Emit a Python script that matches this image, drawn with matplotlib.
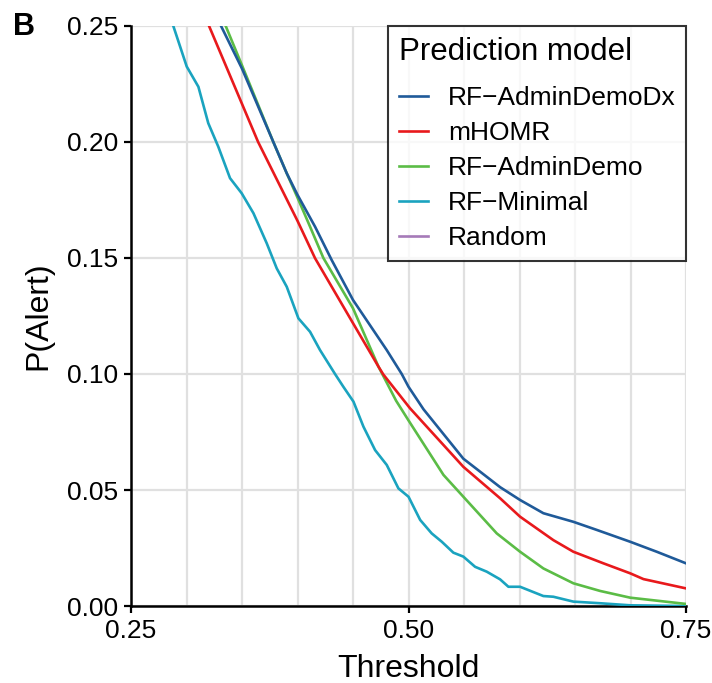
import matplotlib
matplotlib.use("Agg")
import matplotlib.pyplot as plt
import numpy as np

plt.rcParams['font.family'] = ['Liberation Sans', 'DejaVu Sans']

# data (threshold vs P(alert))
dx_x = [0.327, 0.3311, 0.350, 0.3782, 0.3903, 0.400, 0.4158, 0.4308, 0.450, 0.4804, 0.4939,
        0.500, 0.5135, 0.5494, 0.5826, 0.6005, 0.6215, 0.6485, 0.6696, 0.6997, 0.7236, 0.750]
dx_y = [0.254, 0.250, 0.2316, 0.200, 0.1865, 0.1772, 0.1635, 0.1491, 0.1319, 0.1103, 0.100,
        0.0945, 0.0848, 0.0635, 0.0512, 0.0457, 0.0400, 0.0363, 0.0328, 0.0277, 0.0234, 0.0184]

mhomr_x = [0.316, 0.3203, 0.3645, 0.400, 0.4158, 0.450, 0.4729, 0.4773, 0.5014,
           0.5494, 0.5826, 0.6005, 0.6305, 0.6485, 0.6756, 0.6997, 0.7117, 0.750]
mhomr_y = [0.255, 0.250, 0.200, 0.1660, 0.1499, 0.1219, 0.1032, 0.0998, 0.0852,
           0.0600, 0.0464, 0.0385, 0.0284, 0.0234, 0.0184, 0.0141, 0.0116, 0.0076]

demo_x = [0.332, 0.3353, 0.350, 0.3782, 0.3903, 0.400, 0.4113, 0.4233, 0.450, 0.4729, 0.4888,
          0.500, 0.5315, 0.5494, 0.5795, 0.6005, 0.6215, 0.6485, 0.6726, 0.6997, 0.750]
demo_y = [0.254, 0.250, 0.2330, 0.200, 0.1865, 0.1760, 0.1635, 0.150, 0.1283, 0.1032, 0.0885,
          0.0800, 0.0565, 0.0471, 0.0313, 0.0234, 0.0162, 0.0098, 0.0065, 0.0036, 0.0009]

minimal_x = [0.285, 0.2881, 0.3002, 0.3107, 0.3196, 0.3286, 0.3392, 0.3497, 0.3603, 0.3723,
             0.3813, 0.3903, 0.4008, 0.4113, 0.4203, 0.4338, 0.4413, 0.4504, 0.4594, 0.4699,
             0.4804, 0.4909, 0.500, 0.5105, 0.5209, 0.530, 0.5404, 0.5494, 0.560, 0.5705,
             0.5825, 0.590, 0.6005, 0.6215, 0.6305, 0.6485, 0.6726, 0.700, 0.750]
minimal_y = [0.258, 0.250, 0.2325, 0.2238, 0.2081, 0.198, 0.1844, 0.1779, 0.1693, 0.1563,
             0.1455, 0.1376, 0.124, 0.1182, 0.1103, 0.100, 0.0945, 0.0881, 0.0773, 0.0672,
             0.0608, 0.0507, 0.0471, 0.0371, 0.0313, 0.0277, 0.023, 0.0213, 0.0169, 0.0148,
             0.0115, 0.0083, 0.0083, 0.0043, 0.0040, 0.0019, 0.0012, 0.0003, 0.0]

random_x = []
random_y = []

labels = ["RF\u2212AdminDemoDx", "mHOMR", "RF\u2212AdminDemo", "RF\u2212Minimal", "Random"]
colors = ["#1F5A99", "#E8191C", "#5BBC46", "#1AA3BF", "#A57AB8"]

fig = plt.figure(figsize=(7.12, 6.83), dpi=100)
ax = fig.add_axes([0.184, 0.1127, 0.7795, 0.8493])

# grid (ggplot-like, light grey)
for gx in np.arange(0.25, 0.751, 0.05):
    ax.axvline(gx, color="#E0E0E0", lw=1.6, zorder=0)
for gy in np.arange(0.0, 0.251, 0.05):
    ax.axhline(gy, color="#E0E0E0", lw=1.6, zorder=0)

series = [(dx_x, dx_y), (mhomr_x, mhomr_y), (demo_x, demo_y),
          (minimal_x, minimal_y), (random_x, random_y)]
# draw order: minimal, demo, mhomr, dx on top
order = [3, 2, 1, 0, 4]
handles = {}
for i in order:
    xs, ys = series[i]
    ln, = ax.plot(xs, ys, color=colors[i], lw=1.9, label=labels[i], zorder=3)
    handles[i] = ln

ax.set_xlim(0.25, 0.75)
ax.set_ylim(0.0, 0.25)
ax.set_xticks([0.25, 0.50, 0.75])
ax.set_xticklabels(["0.25", "0.50", "0.75"])
ax.set_yticks([0.0, 0.05, 0.10, 0.15, 0.20, 0.25])
ax.set_yticklabels(["0.00", "0.05", "0.10", "0.15", "0.20", "0.25"])
ax.tick_params(labelsize=19, length=5, width=1.6, pad=4, colors="black")

for s in ["top", "right"]:
    ax.spines[s].set_visible(False)
for s in ["left", "bottom"]:
    ax.spines[s].set_linewidth(1.8)

ax.set_xlabel("Threshold", fontsize=23, labelpad=8)
ax.set_ylabel("P(Alert)", fontsize=23, labelpad=10)

leg = ax.legend([handles[i] for i in range(5)], labels, title="Prediction model",
                loc="upper right", bbox_to_anchor=(1.0, 1.0), borderaxespad=0,
                fontsize=19, title_fontsize=22.5, frameon=True, fancybox=False,
                edgecolor="black", handlelength=1.1, handletextpad=0.75,
                labelspacing=0.42, borderpad=0.4, alignment="left")
leg.get_frame().set_linewidth(1.5)
leg.set_zorder(5)
leg._legend_box.sep = 14

fig.text(0.018, 0.982, "B", fontsize=22, fontweight="bold", va="top", ha="left")

fig.savefig("out.png", dpi=100)
